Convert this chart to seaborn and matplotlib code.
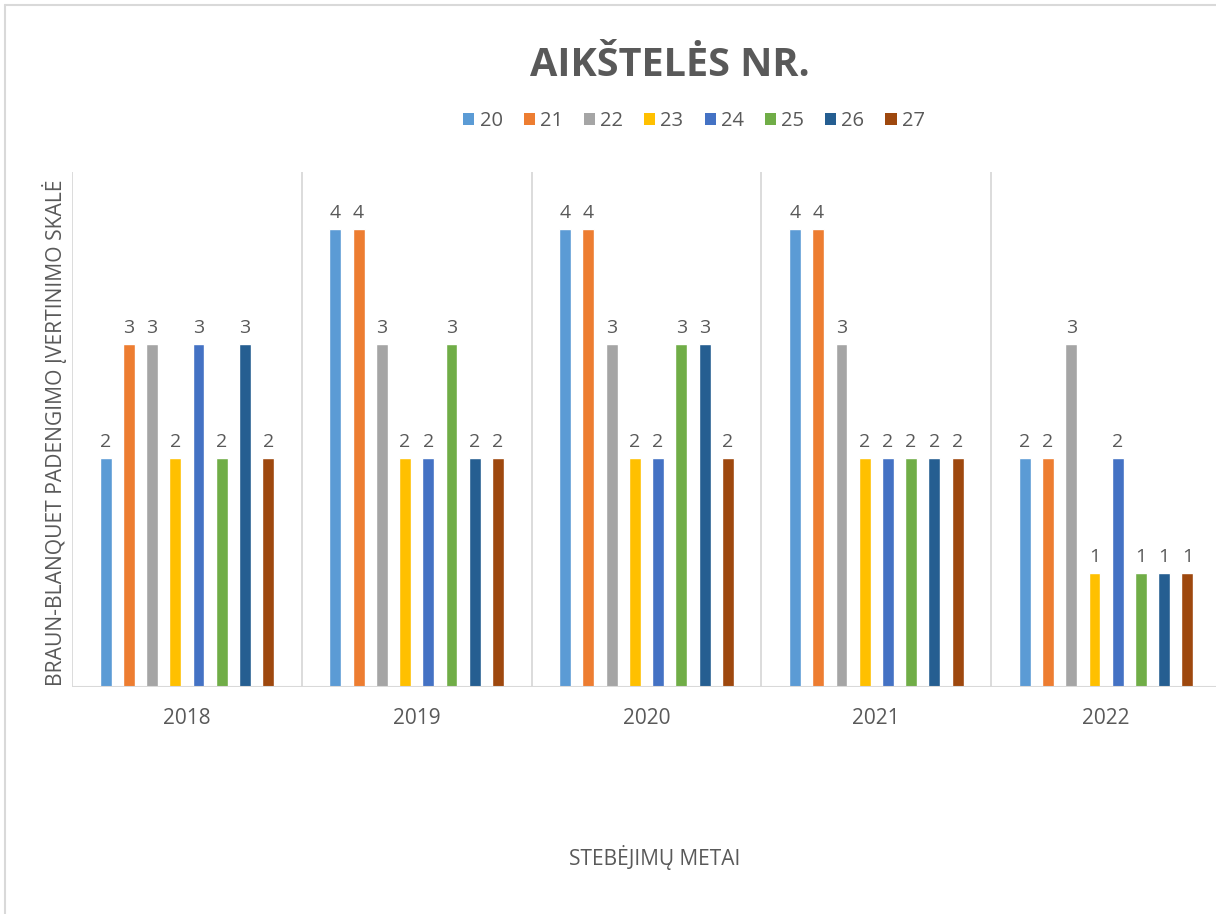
import matplotlib
matplotlib.use('Agg')
import matplotlib.pyplot as plt
import seaborn as sns
import pandas as pd
from matplotlib.patches import Patch
from matplotlib.lines import Line2D

years = ['2018', '2019', '2020', '2021', '2022']
plots = ['20', '21', '22', '23', '24', '25', '26', '27']
v20 = [2, 4, 4, 4, 2]
v21 = [3, 4, 4, 4, 2]
v22 = [3, 3, 3, 3, 3]
v23 = [2, 2, 2, 2, 1]
v24 = [3, 2, 2, 2, 2]
v25 = [2, 3, 3, 2, 1]
v26 = [3, 2, 3, 2, 1]
v27 = [2, 2, 2, 2, 1]
series = [v20, v21, v22, v23, v24, v25, v26, v27]
colors = ['#5B9BD5', '#ED7D31', '#A5A5A5', '#FFC000', '#4472C4', '#70AD47', '#255E91', '#9E480E']

title = 'AIKŠTELĖS NR.'
ylabel = 'BRAUN-BLANQUET PADENGIMO ĮVERTINIMO SKALĖ'
xlabel = 'STEBĖJIMŲ METAI'

rows = []
for p, vals in zip(plots, series):
    for y, v in zip(years, vals):
        rows.append({'year': y, 'plot': p, 'value': v})
df = pd.DataFrame(rows)

sns.set_theme(style='white')
plt.rcParams['font.family'] = ['Open Sans', 'DejaVu Sans']
txt = '#595959'
grid = '#D9D9D9'

W, H = 1216, 914
fig = plt.figure(figsize=(W / 100, H / 100), dpi=100)
ax = fig.add_axes([72 / W, (H - 687) / H, (1221 - 72) / W, (687 - 172) / H])

sns.barplot(data=df, x='year', y='value', hue='plot', hue_order=plots, order=years,
            palette=colors, width=0.808, gap=0.485, saturation=1, errorbar=None,
            legend=False, ax=ax, zorder=3)

for c in ax.containers:
    ax.bar_label(c, padding=5, fontsize=14, color=txt)

ax.set_xlim(-0.5, 4.5)
ax.set_ylim(0, 4.5)
for s in ax.spines.values():
    s.set_visible(False)
for x in [-0.5, 0.5, 1.5, 2.5, 3.5, 4.5]:
    ax.axvline(x, color=grid, lw=1.3, zorder=1)
ax.axhline(0, color=grid, lw=1.5, zorder=4)
ax.set_yticks([])
ax.set_xlabel('')
ax.set_ylabel('')
ax.tick_params(axis='x', length=0, pad=15, labelsize=15, labelcolor=txt)

fig.text(670 / W, 1 - 65 / H, title, ha='center', va='center', fontsize=28.5,
         fontweight='bold', color=txt)
fig.text(55 / W, 1 - 433 / H, ylabel, ha='center', va='center', rotation=90,
         fontsize=15.2, color=txt)
fig.text(655 / W, 1 - 857 / H, xlabel, ha='center', va='center', fontsize=15, color=txt)

handles = [Patch(facecolor=c, edgecolor='none') for c in colors]
fig.legend(handles, plots, loc='center', bbox_to_anchor=(694 / W, 1 - 121 / H), ncol=8,
           frameon=False, fontsize=14.5, handlelength=0.55, handleheight=0.55,
           handletextpad=0.25, columnspacing=1.05, labelcolor=txt)

fig.add_artist(Line2D([5 / W, 5 / W], [0, 1 - 5 / H], transform=fig.transFigure,
                      color=grid, lw=1.5))
fig.add_artist(Line2D([5 / W, 1], [1 - 5 / H, 1 - 5 / H], transform=fig.transFigure,
                      color=grid, lw=1.5))

fig.savefig('out.png', dpi=100, facecolor='white')
